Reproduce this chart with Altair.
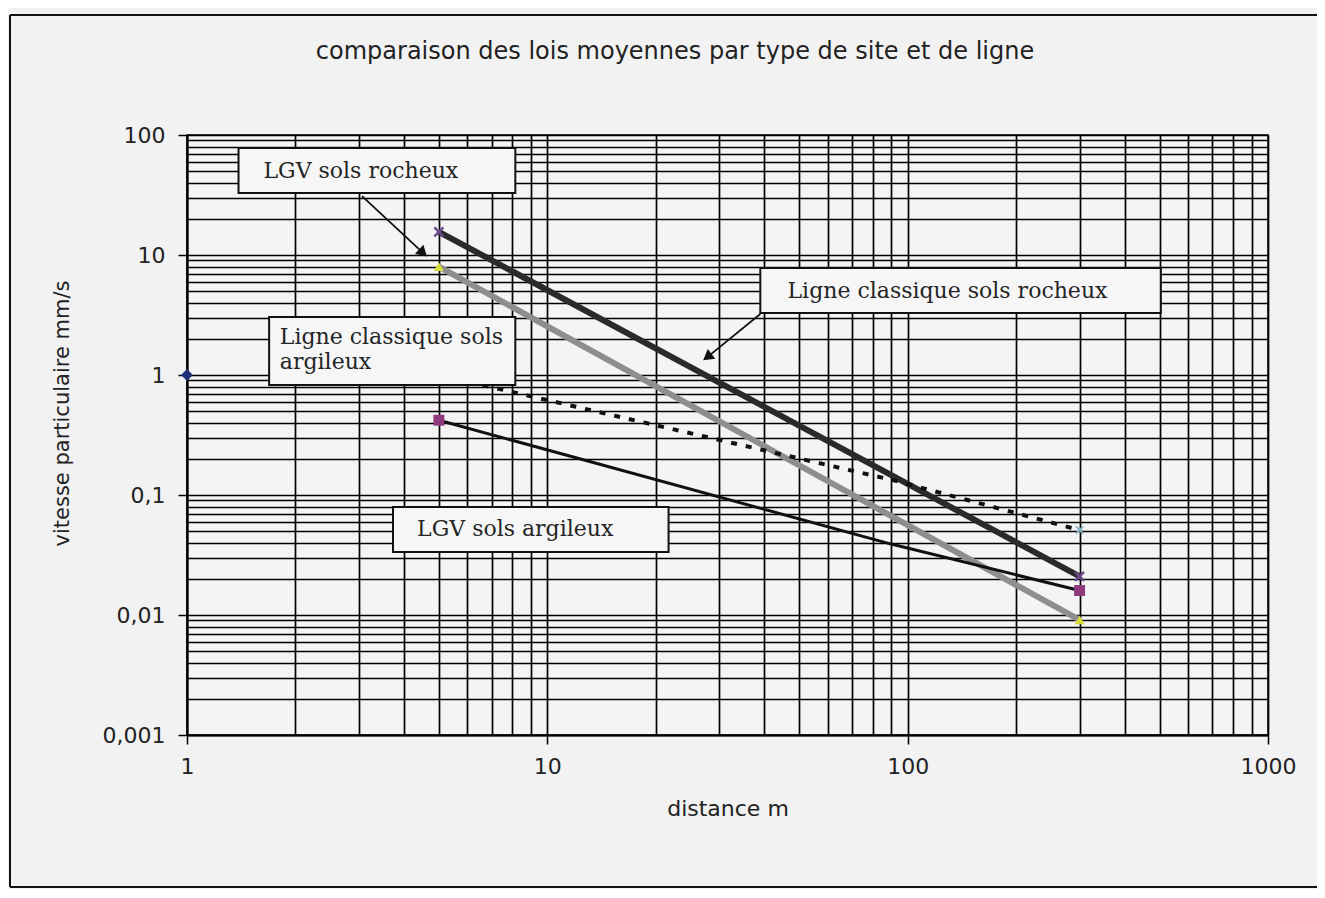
import altair as alt
import pandas as pd

# ---------------- data ----------------
title_text = "comparaison des lois moyennes par type de site et de ligne"
x_title = "distance m"
y_title = "vitesse particulaire mm/s"

series_names = ["LGV sols rocheux", "Ligne classique sols rocheux",
                "Ligne classique sols argileux", "LGV sols argileux"]
lgv_roch_x = [5, 300]
lgv_roch_y = [8.0, 0.0091]
lc_roch_x = [5, 300]
lc_roch_y = [15.6, 0.021]
lc_arg_x = [5, 91, 300]
lc_arg_y = [1.0, 0.133, 0.051]
lgv_arg_x = [5, 90, 300]
lgv_arg_y = [0.42, 0.039, 0.016]
single_x = [1]
single_y = [1]

major_x = [1, 10, 100, 1000]
major_y = [0.001, 0.01, 0.1, 1, 10, 100]
grid_x = [m * 10 ** k for k in range(0, 3) for m in range(1, 10)] + [1000]
grid_y = [round(m * 10.0 ** k, 6) for k in range(-3, 2) for m in range(1, 10)] + [100]

# annotation callouts (data coordinates)
label_texts = ["LGV sols rocheux", "Ligne classique sols\nargileux",
               "Ligne classique sols rocheux", "LGV sols argileux"]
box_x = [1.39, 1.69, 39.0, 3.73]
box_x2 = [8.15, 8.15, 504, 21.7]
box_y = [77.9, 3.04, 7.79, 0.0794]
box_y2 = [32.9, 0.825, 3.29, 0.0335]
text_x = [1.63, 1.81, 46.4, 4.35]
text_y = [50.1, 2.07, 5.01, 0.0521]
arrow_x = [3.06, 39.0]
arrow_y = [31.0, 3.22]
arrow_x2 = [4.52, 27.8]
arrow_y2 = [10.4, 1.41]
arrow_angle = [133, 232]

# ---------------- scales / axes ----------------
xscale = alt.Scale(type="log", domain=[1, 1000], nice=False)
yscale = alt.Scale(type="log", domain=[0.001, 100], nice=False)

SANS = "DejaVu Sans"
SERIF = "DejaVu Serif"
TXT = "#222222"


def lab_expr(major):
    return (f"indexof({major}, datum.value) >= 0 ? "
            "replace(format(datum.value, '~g'), '.', ',') : ''")


def tick_op(major):
    return {"condition": {"test": f"indexof({major}, datum.value) >= 0", "value": 1},
            "value": 0}


xaxis = alt.Axis(values=grid_x, grid=True, gridColor="#000", gridWidth=1.7, gridOpacity=1,
                 domainColor="#000", domainWidth=2, tickColor="#000", tickWidth=1.5,
                 tickSize=9, tickOpacity=tick_op(major_x), labelExpr=lab_expr(major_x),
                 labelFont=SANS, labelFontSize=22, labelColor=TXT, labelPadding=12,
                 labelOverlap=False, labelFlush=False, labelBound=False,
                 title=x_title, titleFont=SANS, titleFontSize=22, titleFontWeight="normal",
                 titleColor=TXT, titleY=73, titleBaseline="middle")
yaxis = alt.Axis(values=grid_y, grid=True, gridColor="#000", gridWidth=1.7, gridOpacity=1,
                 domainColor="#000", domainWidth=2, tickColor="#000", tickWidth=1.5,
                 tickSize=9, tickOpacity=tick_op(major_y), labelExpr=lab_expr(major_y),
                 labelFont=SANS, labelFontSize=22, labelColor=TXT, labelPadding=13,
                 labelOverlap=False, labelFlush=False, labelBound=False,
                 title=y_title, titleFont=SANS, titleFontSize=21, titleFontWeight="normal",
                 titleColor=TXT, titleX=-125, titleY=278, titleAngle=270,
                 titleBaseline="middle", titleAlign="center")

X = alt.X("x:Q", scale=xscale, axis=xaxis)
Y = alt.Y("y:Q", scale=yscale, axis=yaxis)
X2 = alt.X2("x2:Q")
Y2 = alt.Y2("y2:Q")

XMARK = "M-1,-1L1,1M-1,1L1,-1"

# ---------------- series layers ----------------
series_data = [
    (lgv_roch_x, lgv_roch_y, dict(color="#8e8e8e", strokeWidth=6),
     dict(shape="triangle-up", filled=True, color="#d8dc3a", size=100, opacity=1)),
    (lc_roch_x, lc_roch_y, dict(color="#2a2a2a", strokeWidth=6),
     dict(shape=XMARK, filled=False, color="#6a4a8c", size=80, strokeWidth=2.5, opacity=1)),
    (lc_arg_x, lc_arg_y, dict(color="#111111", strokeWidth=4, strokeDash=[6, 9]),
     dict(shape=XMARK, filled=False, color="#8ab4c8", size=50, strokeWidth=2, opacity=1)),
    (lgv_arg_x, lgv_arg_y, dict(color="#111111", strokeWidth=3),
     dict(shape="square", filled=True, color="#8e3a7c", size=120, opacity=1)),
]

layers = []
for (xs, ys, lstyle, pstyle), name in zip(series_data, series_names):
    df = pd.DataFrame({"x": xs, "y": ys, "serie": name})
    layers.append(alt.Chart(df).mark_line(**lstyle).encode(x=X, y=Y))
    ends = df.iloc[[0, len(df) - 1]]
    layers.append(alt.Chart(ends).mark_point(**pstyle).encode(x=X, y=Y))

single_df = pd.DataFrame({"x": single_x, "y": single_y})
layers.append(alt.Chart(single_df).mark_point(shape="diamond", filled=True, color="#1f2f7a",
                                              size=140, opacity=1).encode(x=X, y=Y))

# ---------------- annotation callouts ----------------
box_df = pd.DataFrame({"x": box_x, "x2": box_x2, "y": box_y, "y2": box_y2})
layers.append(alt.Chart(box_df).mark_rect(fill="#f6f6f6", stroke="#111", strokeWidth=2)
              .encode(x=X, x2=X2, y=Y, y2=Y2))
txt_df = pd.DataFrame({"x": text_x, "y": text_y, "t": label_texts})
layers.append(alt.Chart(txt_df).mark_text(align="left", baseline="middle", font=SERIF,
                                          fontSize=22, color="#252525", lineBreak="\n",
                                          lineHeight=25)
              .encode(x=X, y=Y, text="t:N"))
arr_df = pd.DataFrame({"x": arrow_x, "y": arrow_y, "x2": arrow_x2, "y2": arrow_y2,
                       "a": arrow_angle})
layers.append(alt.Chart(arr_df).mark_rule(color="#111", strokeWidth=1.8)
              .encode(x=X, y=Y, x2=X2, y2=Y2))
layers.append(alt.Chart(arr_df).mark_point(shape="triangle-up", filled=True, color="#111",
                                           size=150, opacity=1)
              .encode(x=alt.X("x2:Q", scale=xscale, axis=xaxis),
                      y=alt.Y("y2:Q", scale=yscale, axis=yaxis),
                      angle=alt.Angle("a:Q", scale=None)))

# ---------------- decoration: title and outer frame (top, left, bottom edges) ----------------
frame_top = alt.Chart(single_df).mark_rule(stroke="#111", strokeWidth=2).encode(
    x=alt.value(-177), x2=alt.value(1200), y=alt.value(-120))
frame_left = alt.Chart(single_df).mark_rule(stroke="#111", strokeWidth=2).encode(
    x=alt.value(-177), y=alt.value(-120), y2=alt.value(752))
frame_bottom = alt.Chart(single_df).mark_rule(stroke="#111", strokeWidth=2).encode(
    x=alt.value(-177), x2=alt.value(1200), y=alt.value(752))
title = alt.Chart(single_df).mark_text(font=SANS, fontSize=24, color=TXT, align="center",
                                       baseline="middle").encode(
    x=alt.value(488), y=alt.value(-83), text=alt.value(title_text))

chart = alt.layer(frame_top, frame_left, frame_bottom, title, *layers).properties(
    width=1081, height=600,
    padding={"left": 179, "top": 127, "right": 49, "bottom": 154},
    autosize=alt.AutoSizeParams(type="none"),
    background="#f2f2f2",
).configure_view(stroke="#000", strokeWidth=1.5, fill="#f4f4f4")

chart.save("out.html", embed_options={"renderer": "svg", "actions": False})
